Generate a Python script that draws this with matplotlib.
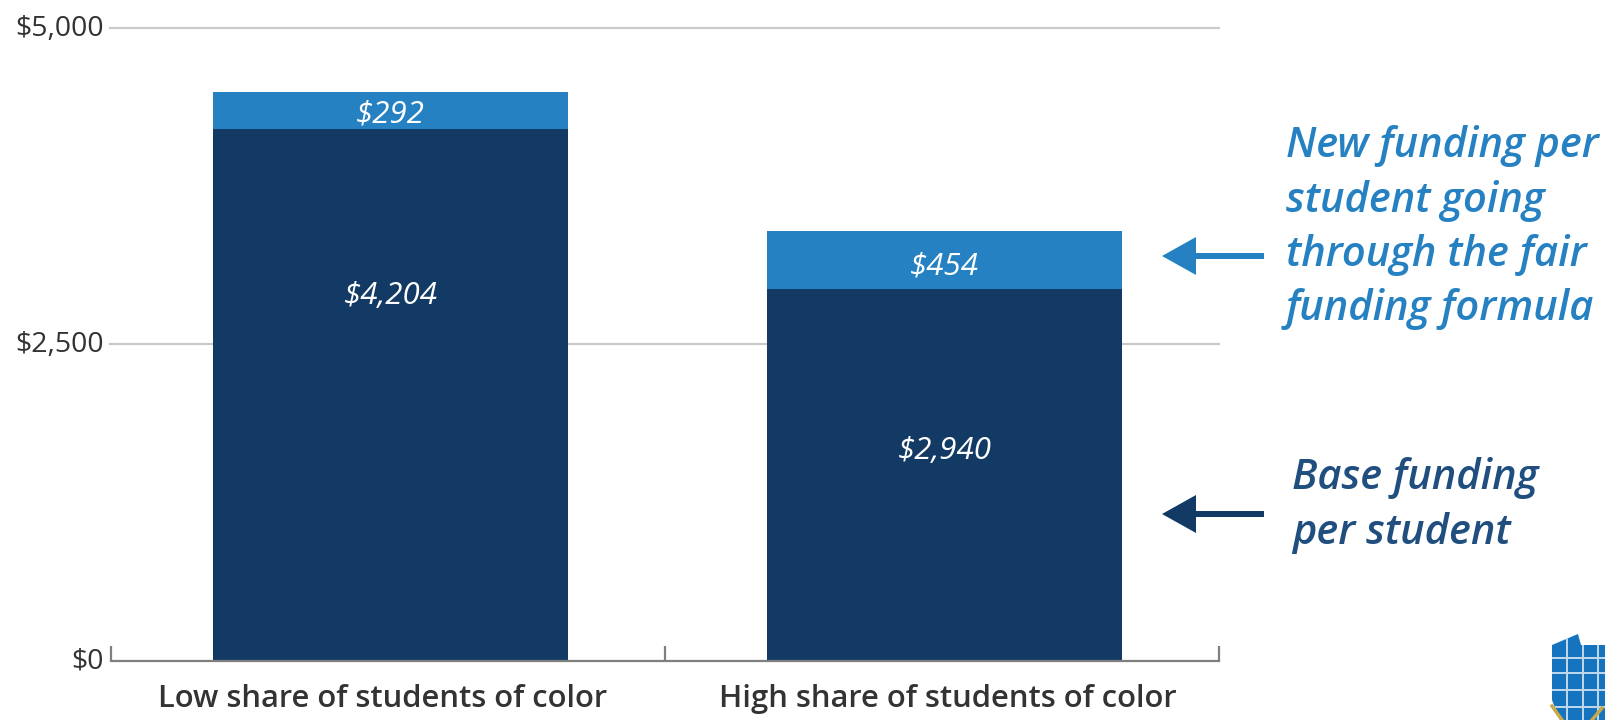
import matplotlib

matplotlib.use('Agg')
import matplotlib.pyplot as plt
from matplotlib.patches import Polygon, Rectangle
from matplotlib.transforms import ScaledTranslation

W, H = 1606, 720

# Data
categories = ["Low share of students of color", "High share of students of color"]
base_funding = [4204, 2940]
new_funding = [292, 454]
y_ticks = [0, 2500, 5000]
y_tick_labels = ["$0", "$2,500", "$5,000"]

DARK = '#123a64'
LIGHT = '#2581c1'
GRID = '#c9c9c9'
AXIS = '#7f7f7f'
TEXT = '#333333'

plt.rcParams['font.family'] = ['Open Sans', 'DejaVu Sans']

fig = plt.figure(figsize=(W / 100, H / 100), dpi=100)

# Axes placed in pixels
left, right, bottom, top = 110.5, 1219, 660.5, 28.5
ax = fig.add_axes([left / W, 1 - bottom / H, (right - left) / W, (bottom - top) / H])
ax.set_xlim(-0.505, 1.495)
ax.set_ylim(0, 5000)

# Gridlines sit behind the bars
for t in y_ticks[1:]:
    ax.axhline(t, color=GRID, linewidth=1.6, zorder=1, clip_on=False)

x_pos = range(len(categories))
ax.bar(x_pos, base_funding, width=0.64, color=DARK, zorder=2)
ax.bar(x_pos, new_funding, width=0.64, bottom=base_funding, color=LIGHT, zorder=2)

# Value labels inside the bars
base_label_y = [2885, 1660]
top_label_y = [4323, 3118]
for i in x_pos:
    ax.text(i, base_label_y[i], f"${base_funding[i]:,}", color='white', fontsize=22.5,
            style='italic', ha='center', va='center', zorder=3)
    ax.text(i, top_label_y[i], f"${new_funding[i]:,}", color='white',
            fontsize=22.5, style='italic', ha='center', va='center', zorder=3)

# Axis styling
for s in ['top', 'right', 'left']:
    ax.spines[s].set_visible(False)
ax.spines['bottom'].set_color(AXIS)
ax.spines['bottom'].set_linewidth(1.6)

ax.set_yticks(y_ticks)
ax.set_yticklabels(y_tick_labels, fontsize=20.5, color=TEXT)
ax.tick_params(axis='y', length=0, pad=5)
# nudge the y labels up a little
shift = ScaledTranslation(0, 2.5 / 100, fig.dpi_scale_trans)
for lab in ax.get_yticklabels():
    lab.set_transform(lab.get_transform() + shift)
ax.set_xticks([-0.505, 0.495, 1.495])
ax.set_xticklabels([])
ax.tick_params(axis='x', direction='in', length=11, width=1.6, color=AXIS)

cat_label_x = [-0.014, 1.005]
for i, c in enumerate(categories):
    ax.text(cat_label_x[i], -305, c, fontsize=22.3, color=TEXT, fontweight='semibold', ha='center', va='center')

# Overlay for annotations, in pixels
ov = fig.add_axes([0, 0, 1, 1], facecolor='none')
ov.set_xlim(0, W)
ov.set_ylim(H, 0)
ov.axis('off')

ov.arrow(1264, 256, -102, 0, width=6, head_width=38, head_length=34,
         length_includes_head=True, color=LIGHT, linewidth=0)
ov.arrow(1264, 514, -102, 0, width=6, head_width=38, head_length=34,
         length_includes_head=True, color=DARK, linewidth=0)

for y, s in zip([146, 201, 255, 309], ["New funding per", "student going", "through the fair", "funding formula"]):
    ov.text(1286, y, s, color=LIGHT, fontsize=30, style='italic', fontweight='semibold', va='center')
for y, s in zip([478, 533], ["Base funding", "per student"]):
    ov.text(1292, y, s, color='#1f4e7f', fontsize=30, style='italic', fontweight='semibold', va='center')

# Corner logo fragment
logo = Polygon([(1552, 645), (1578, 634), (1581, 645), (1606, 645), (1606, 720), (1560, 720), (1552, 700)],
               closed=True, facecolor='#1574bd', edgecolor='none', zorder=1)
ov.add_patch(logo)
for gx in [1567, 1583, 1598]:
    ov.add_patch(Rectangle((gx - 1.2, 634), 2.4, 86, facecolor='#bcd7ec', edgecolor='none', zorder=2,
                           clip_path=logo))
for gy in [658, 673, 690, 707]:
    ov.add_patch(Rectangle((1552, gy - 1.2), 54, 2.4, facecolor='#bcd7ec', edgecolor='none', zorder=2,
                           clip_path=logo))
ov.plot([1552, 1562], [706, 720], color='#c9a94a', linewidth=2.5, zorder=3)
ov.plot([1592, 1602], [720, 708], color='#c9a94a', linewidth=2.5, zorder=3)

fig.savefig('out.png', dpi=100)
